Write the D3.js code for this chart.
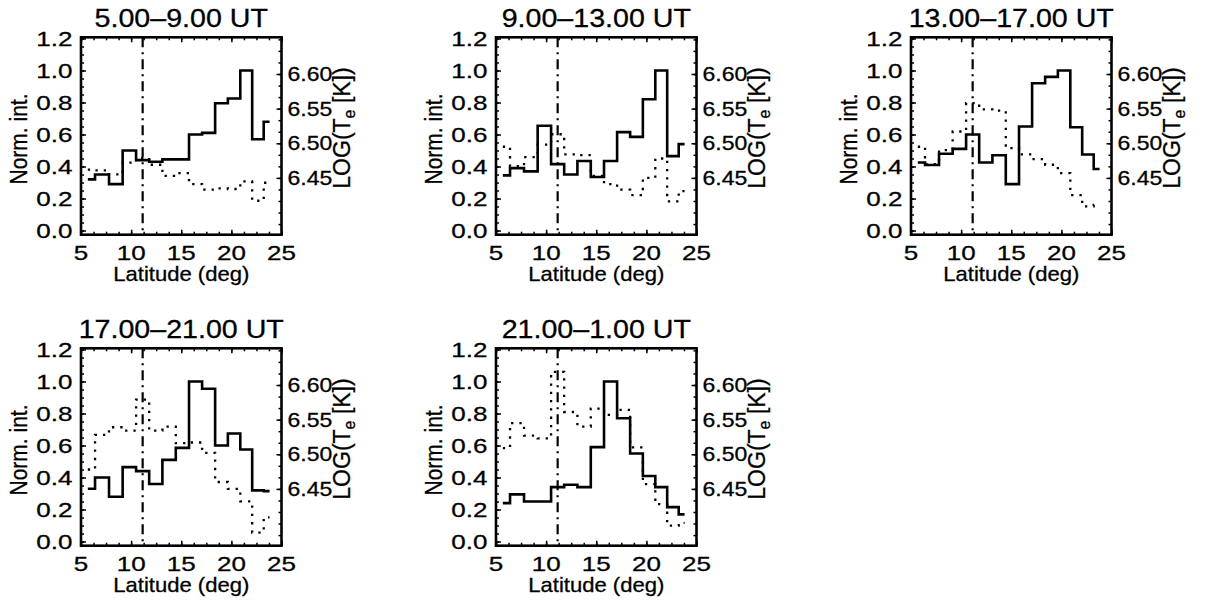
<!DOCTYPE html>
<html><head><meta charset="utf-8">
<script src="https://cdn.jsdelivr.net/npm/d3@7"></script>
<style>
body{margin:0;background:#fff}
svg{display:block}
text{font-family:"Liberation Sans",Arial,Helvetica,sans-serif;fill:#000;stroke:#000;stroke-width:0.3px}
</style>
</head><body><svg id="c" width="1206" height="610"></svg>
<script>
// ---- data ----
const latitude = [5.68, 7.12, 8.47, 9.84, 11.15, 12.45, 13.79, 15.12, 16.43, 17.73, 19.03, 20.27, 21.51, 22.64, 23.81];
const titles = ["5.00\u20139.00 UT", "9.00\u201313.00 UT", "13.00\u201317.00 UT", "17.00\u201321.00 UT", "21.00\u20131.00 UT"];

const normInt_05_09 = [0.32, 0.35, 0.29, 0.50, 0.44, 0.43, 0.445, 0.445, 0.60, 0.61, 0.795, 0.825, 1.0, 0.57, 0.68];
const logTe_05_09   = [6.462, 6.461, 6.455, 6.472, 6.479, 6.469, 6.453, 6.457, 6.441, 6.433, 6.435, 6.434, 6.445, 6.417, 6.443];

const normInt_09_13 = [0.345, 0.39, 0.37, 0.655, 0.415, 0.35, 0.435, 0.335, 0.435, 0.615, 0.585, 0.82, 1.0, 0.465, 0.54];
const logTe_09_13   = [6.495, 6.467, 6.480, 6.498, 6.513, 6.484, 6.483, 6.453, 6.441, 6.433, 6.425, 6.450, 6.478, 6.416, 6.431];

const normInt_13_17 = [0.425, 0.41, 0.48, 0.51, 0.60, 0.425, 0.47, 0.29, 0.65, 0.92, 0.96, 1.0, 0.645, 0.475, 0.385];
const logTe_13_17   = [6.495, 6.470, 6.490, 6.517, 6.558, 6.549, 6.547, 6.493, 6.484, 6.477, 6.469, 6.457, 6.425, 6.409, 6.411];

const normInt_17_21 = [0.33, 0.40, 0.28, 0.465, 0.44, 0.36, 0.51, 0.585, 1.0, 0.955, 0.60, 0.675, 0.575, 0.32, 0.315];
const logTe_17_21   = [6.478, 6.528, 6.539, 6.534, 6.579, 6.534, 6.540, 6.516, 6.517, 6.502, 6.460, 6.450, 6.432, 6.387, 6.409];

const normInt_21_01 = [0.24, 0.295, 0.25, 0.25, 0.34, 0.355, 0.34, 0.59, 1.0, 0.77, 0.55, 0.41, 0.34, 0.215, 0.17];
const logTe_21_01   = [6.509, 6.545, 6.527, 6.523, 6.619, 6.561, 6.540, 6.566, 6.557, 6.564, 6.510, 6.457, 6.428, 6.397, 6.401];

const refLatitude = 11.15;
const xTicks = [5, 10, 15, 20, 25];
const xTickLabels = ["5", "10", "15", "20", "25"];
const yLeftTicks = [0, 0.2, 0.4, 0.6, 0.8, 1.0, 1.2];
const yLeftTickLabels = ["0.0", "0.2", "0.4", "0.6", "0.8", "1.0", "1.2"];
const yRightTicks = [6.45, 6.50, 6.55, 6.60];
const yRightTickLabels = ["6.45", "6.50", "6.55", "6.60"];

// ---- layout ----
const svg = d3.select("#c");
const W = 200.5, H = 197.4;
const originX = 81, originY = 37.3, stepX = 415, stepY = 311;
const cells = [[0,0],[1,0],[2,0],[0,1],[1,1]];
const intSeries = [normInt_05_09, normInt_09_13, normInt_13_17, normInt_17_21, normInt_21_01];
const teSeries  = [logTe_05_09, logTe_09_13, logTe_13_17, logTe_17_21, logTe_21_01];

const tickFont = 20;

titles.forEach((title, i) => {
  const [c, r] = cells[i];
  const g = svg.append("g").attr("transform", `translate(${originX + c*stepX},${originY + r*stepY})`);
  const x = d3.scaleLinear().domain([5, 25]).range([0, W]);
  const yl = d3.scaleLinear().domain([-0.026, 1.2075]).range([H, 0]);
  const yr = d3.scaleLinear().domain([6.368, 6.653]).range([H, 0]);

  const xMinor = d3.range(0, 17).map(k => 5 + k*1.25);
  const ylMinor = d3.range(0, 25).map(k => k*0.05);
  const yrMinor = d3.range(-5, 16).map(k => 6.45 + k*0.05/3).filter(v => v > 6.369 && v < 6.652);

  function ax(axis, tr) {
    const a = g.append("g").attr("transform", tr).call(axis);
    a.select(".domain").remove();
    a.selectAll("line").attr("stroke", "#000").attr("stroke-width", 1.5);
    a.selectAll("text").remove();
  }
  ax(d3.axisBottom(x).tickValues(xTicks).tickSize(-5), `translate(0,${H})`);
  ax(d3.axisBottom(x).tickValues(xMinor).tickSize(-3), `translate(0,${H})`);
  ax(d3.axisTop(x).tickValues(xTicks).tickSize(-5), `translate(0,0)`);
  ax(d3.axisTop(x).tickValues(xMinor).tickSize(-3), `translate(0,0)`);
  ax(d3.axisLeft(yl).tickValues(yLeftTicks).tickSize(-5), `translate(0,0)`);
  ax(d3.axisLeft(yl).tickValues(ylMinor).tickSize(-3), `translate(0,0)`);
  ax(d3.axisRight(yr).tickValues(yRightTicks).tickSize(-5), `translate(${W},0)`);
  ax(d3.axisRight(yr).tickValues(yrMinor).tickSize(-3), `translate(${W},0)`);

  // data lines
  const dInt = latitude.map((l, k) => ({l, v: intSeries[i][k]}));
  const dTe  = latitude.map((l, k) => ({l, v: teSeries[i][k]}));
  g.append("path").datum(dTe)
    .attr("d", d3.line().x(d => x(d.l)).y(d => yr(d.v)).curve(d3.curveStep))
    .attr("fill", "none").attr("stroke", "#000").attr("stroke-width", 2.3)
    .attr("stroke-dasharray", "2.3,6");
  g.append("path").datum(dInt)
    .attr("d", d3.line().x(d => x(d.l)).y(d => yl(d.v)).curve(d3.curveStep))
    .attr("fill", "none").attr("stroke", "#000").attr("stroke-width", 2.6)
    .attr("stroke-linejoin", "miter");

  // reference dash-dot line
  g.append("line").attr("x1", x(refLatitude)).attr("x2", x(refLatitude))
    .attr("y1", 0).attr("y2", H)
    .attr("stroke", "#000").attr("stroke-width", 2.2)
    .attr("stroke-dasharray", "10,5,2,5");

  // frame
  g.append("rect").attr("x", 0).attr("y", 0).attr("width", W).attr("height", H)
    .attr("fill", "none").attr("stroke", "#000").attr("stroke-width", 2.6);

  // tick labels
  xTicks.forEach((v, k) => {
    g.append("text").attr("transform", `translate(${x(v)},${H + 25}) scale(1.3,1)`)
      .attr("text-anchor", "middle").attr("font-size", tickFont).text(xTickLabels[k]);
  });
  yLeftTicks.forEach((v, k) => {
    g.append("text").attr("transform", `translate(-8.5,${yl(v)}) scale(1.3,1)`)
      .attr("text-anchor", "end").attr("dy", "0.36em").attr("font-size", tickFont).text(yLeftTickLabels[k]);
  });
  yRightTicks.forEach((v, k) => {
    g.append("text").attr("transform", `translate(${W + 6},${yr(v)}) scale(1.15,1)`)
      .attr("text-anchor", "start").attr("dy", "0.36em").attr("font-size", tickFont).text(yRightTickLabels[k]);
  });

  // titles
  g.append("text").attr("transform", `translate(${W/2},-10.5) scale(1.1,1)`)
    .attr("text-anchor", "middle").attr("font-size", 26).text(title);
  g.append("text").attr("transform", `translate(${W/2},${H + 46}) scale(1.05,1)`)
    .attr("text-anchor", "middle").attr("font-size", 21).text("Latitude (deg)");
  g.append("text").attr("transform", `translate(-54,${H/2 + 3}) rotate(-90) scale(1,1.1)`)
    .attr("text-anchor", "middle").attr("font-size", 21).text("Norm. int.");
  const lt = g.append("text").attr("transform", `translate(${W + 68.5},${H/2 - 8}) rotate(-90)`)
    .attr("text-anchor", "middle").attr("font-size", 23);
  lt.append("tspan").text("LOG(T");
  lt.append("tspan").attr("dy", 5).attr("font-size", 16).text("e");
  lt.append("tspan").attr("dy", -5).text(" [K])");
});
</script>
</body></html>
